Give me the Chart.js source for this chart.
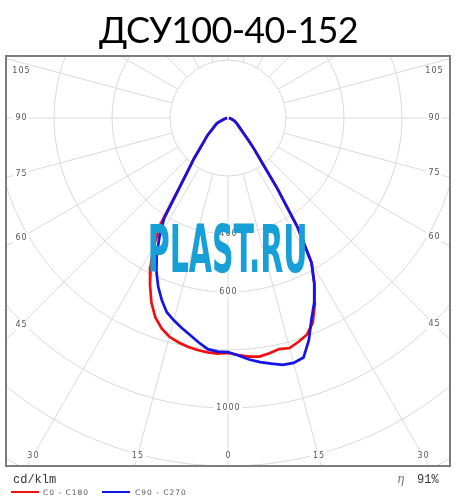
<!DOCTYPE html>
<html>
<head>
<meta charset="utf-8">
<script src="https://cdn.jsdelivr.net/npm/chart.js@4.4.0/dist/chart.umd.min.js"></script>
<style>
  html, body { margin: 0; padding: 0; background: #fff; }
  #wrap { position: relative; width: 457px; height: 500px; overflow: hidden; }
  #chart { position: absolute; left: 0; top: 0; }
  #title { position: absolute; left: 0; top: 11px; width: 457px; text-align: center;
           font-family: Lato, sans-serif; font-size: 36px; line-height: 36px; letter-spacing: -0.7px; color: #000; }
  .t { position: absolute; white-space: pre; }
  .mono { font-family: "Liberation Mono", monospace; font-size: 12px; line-height: 12px; color: #333; }
  .leg { font-family: "DejaVu Sans", sans-serif; font-size: 7.5px; line-height: 8px; letter-spacing: 1px; color: #555; }
  .swatch { position: absolute; height: 2px; width: 28px; }
</style>
</head>
<body>
<div id="wrap">
  <canvas id="chart" width="457" height="500"></canvas>
  <div id="title">ДСУ100-40-152</div>
  <div class="t mono" style="left:13px; top:474px;">cd/klm</div>
  <div class="t" style="left:397px; top:473px; font-family:'DejaVu Serif', serif; font-style:italic; font-size:12px; line-height:12px; color:#777;">η</div>
  <div class="t mono" style="left:417px; top:474px;">91%</div>
  <div class="swatch" style="left:11px; top:491px; background:#f01010;"></div>
  <div class="t leg" style="left:43px; top:489px;">C0 - C180</div>
  <div class="swatch" style="left:102px; top:491px; background:#1414e6;"></div>
  <div class="t leg" style="left:135px; top:489px;">C90 - C270</div>
</div>
<script>
// angle from nadir, degrees (negative = left half of the diagram)
const angles = [-90, -85, -80, -75, -70, -65, -60, -55, -50, -45,
  -42.5, -40, -37.5, -35, -32.5, -30, -27.5, -25, -22.5, -20, -17.5, -15, -12.5, -10, -7.5, -5, -2.5,
  0, 2.5, 5, 7.5, 10, 12.5, 15, 17.5, 20, 22.5, 25, 27.5, 30, 32.5, 35, 37.5, 40, 42.5,
  45, 50, 55, 60, 65, 70, 75, 80, 85, 90];

// cd/klm
const c0c180 = [3, 5, 8, 13, 22, 42, 51, 65, 92, 121,
  145, 182, 223, 292, 432, 514, 578, 636, 690, 732, 761, 781, 792, 801, 807, 811, 813,
  810, 818, 826, 830, 824, 816, 821, 809, 795, 764, 708, 646, 577, 447, 297, 190, 142, 106,
  80, 54, 41, 33, 25, 17, 12, 8, 5, 3];

const c90c270 = [3, 5, 8, 13, 22, 42, 51, 65, 92, 121,
  145, 182, 223, 287, 410, 472, 533, 584, 629, 668, 702, 722, 741, 759, 780, 800, 806,
  807, 820, 836, 849, 860, 872, 874, 866, 815, 752, 703, 644, 575, 445, 295, 190, 142, 106,
  80, 54, 41, 33, 25, 17, 12, 8, 5, 3];

const ringValues = [200, 400, 600, 800, 1000, 1200, 1400];
const ringLabels = [400, 600, 1000];
const angleTicks = [-105, -90, -75, -60, -45, -30, -15, 0, 15, 30, 45, 60, 75, 90, 105];

const toXY = vals => angles.map((a, i) => {
  const t = a * Math.PI / 180;
  return { x: vals[i] * Math.sin(t), y: -vals[i] * Math.cos(t) };
});

function label(ctx, text, x, y) {
  ctx.font = '8px "DejaVu Sans", sans-serif';
  ctx.letterSpacing = '1px';
  const w = ctx.measureText(text).width;
  ctx.fillStyle = '#fff';
  ctx.fillRect(x - w / 2 - 2, y - 5, w + 4, 10);
  ctx.fillStyle = '#555';
  ctx.textAlign = 'center';
  ctx.textBaseline = 'middle';
  ctx.fillText(text, x + 0.5, y);
}

const polarGrid = {
  id: 'polarGrid',
  beforeDatasetsDraw(chart) {
    const { ctx, chartArea: a, scales: { x, y } } = chart;
    const cx = x.getPixelForValue(0), cy = y.getPixelForValue(0);
    const px = v => x.getPixelForValue(v) - cx;
    ctx.save();
    ctx.fillStyle = '#fff';
    ctx.fillRect(a.left, a.top, a.right - a.left, a.bottom - a.top);
    ctx.beginPath();
    ctx.rect(a.left, a.top, a.right - a.left, a.bottom - a.top);
    ctx.clip();
    ctx.strokeStyle = '#dadada';
    ctx.lineWidth = 1;
    ringValues.forEach(v => {
      ctx.beginPath();
      ctx.arc(cx, cy, px(v), 0, Math.PI * 2);
      ctx.stroke();
    });
    const r0 = px(ringValues[0]);
    for (let d = 0; d < 360; d += 15) {
      const t = d * Math.PI / 180;
      ctx.beginPath();
      ctx.moveTo(cx + Math.sin(t) * r0, cy + Math.cos(t) * r0);
      ctx.lineTo(cx + Math.sin(t) * 1000, cy + Math.cos(t) * 1000);
      ctx.stroke();
    }
    // angle labels where the rays meet an inset frame
    const L = a.left + 15, R = a.right - 16, B = a.bottom - 10, T = a.top + 15;
    angleTicks.forEach(d => {
      const t = d * Math.PI / 180, sx = Math.sin(t), sy = Math.cos(t);
      const hits = [];
      if (sx < 0) hits.push((L - cx) / sx);
      if (sx > 0) hits.push((R - cx) / sx);
      if (sy > 0) hits.push((B - cy) / sy);
      const s = Math.min(...hits);
      label(ctx, String(Math.abs(d)), cx + sx * s, Math.max(T, cy + sy * s));
    });
    ringLabels.forEach(v => label(ctx, String(v), cx, cy + px(v)));
    ctx.restore();
  },
  afterDatasetsDraw(chart) {
    const { ctx, chartArea: a } = chart;
    ctx.save();
    // watermark
    ctx.font = 'bold 60px "DejaVu Sans Condensed", "DejaVu Sans", sans-serif';
    ctx.letterSpacing = '0px';
    ctx.textAlign = 'left';
    ctx.textBaseline = 'alphabetic';
    const m = ctx.measureText('PLAST.RU');
    const w = m.actualBoundingBoxLeft + m.actualBoundingBoxRight;
    const h = m.actualBoundingBoxAscent;
    const box = { left: 150, right: 305, top: 223, bottom: 272 };
    ctx.translate(box.left, box.bottom);
    ctx.scale((box.right - box.left) / w, (box.bottom - box.top) / h);
    ctx.fillStyle = '#17a0d8';
    ctx.fillText('PLAST.RU', m.actualBoundingBoxLeft, 0);
    ctx.restore();
    ctx.save();
    ctx.strokeStyle = '#7d7d7d';
    ctx.lineWidth = 2;
    ctx.strokeRect(a.left, a.top, a.right - a.left, a.bottom - a.top);
    ctx.restore();
  }
};

new Chart(document.getElementById('chart'), {
  type: 'scatter',
  data: {
    datasets: [
      { label: 'C0 - C180', data: toXY(c0c180), borderColor: '#f01010', order: 2 },
      { label: 'C90 - C270', data: toXY(c90c270), borderColor: '#1414e6', order: 1 }
    ].map(ds => Object.assign(ds, { showLine: true, pointRadius: 0, borderWidth: 2.7, tension: 0, fill: false }))
  },
  options: {
    responsive: false,
    animation: false,
    events: [],
    layout: { padding: { left: 6, right: 7, top: 56, bottom: 34 } },
    scales: {
      x: { type: 'linear', min: -765.5, max: 765.5, display: false },
      y: { type: 'linear', min: -1200, max: 214, display: false }
    },
    plugins: { legend: { display: false }, tooltip: { enabled: false } }
  },
  plugins: [polarGrid]
});
</script>
</body>
</html>
